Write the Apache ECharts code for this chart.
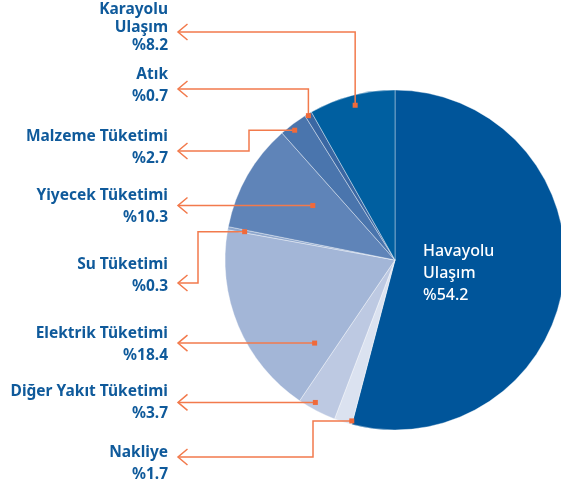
<!DOCTYPE html>
<html>
<head>
<meta charset="utf-8">
<script src="https://cdn.jsdelivr.net/npm/echarts@6/dist/echarts.min.js"></script>
<style>
html, body { margin: 0; padding: 0; background: #fff; }
#main { width: 561px; height: 488px; }
</style>
</head>
<body>
<div id="main"></div>
<script>
// veriler (saat yönünde, tepeden başlayarak)
const names = ['Havayolu\nUlaşım', 'Nakliye', 'Diğer Yakıt Tüketimi', 'Elektrik Tüketimi', 'Su Tüketimi',
  'Yiyecek Tüketimi', 'Malzeme Tüketimi', 'Atık', 'Karayolu\nUlaşım']
const values = [54.2, 1.7, 3.7, 18.4, 0.3, 10.3, 2.7, 0.7, 8.2]

const colors = ['#00559a', '#dbe2f0', '#bdc9e2', '#a3b6d7', '#8ea7cd', '#5f84b8', '#4a75ad', '#3a67a3', '#005fa0']
const ORANGE = '#f27a4c'
const TEXT = '#0f5a9b'

// pasta geometrisi
const CX = 395
const CY = 260
const R = 170
const LABEL_X = 168
const TIP_X = 178

// etiket yerleşimi: etiket merkezi y, ok y, dirsek x, dilim içindeki açı/yarıçap oranı
const labelY = [273, 463.5, 403, 344.5, 275.5, 207, 148, 86, 28]
const arrowY = [null, 457, null, null, 283, null, 151, 89, 32]
const elbowX = [null, 313, null, null, 198, null, 249, 'v', 'v']
const angFrac = [0, 0.05, 0.63, 0.15, 0.4, 0.6, 0.41, 0.4, 0.51]
const radFrac = [0, 0.98, 0.96, 0.68, 0.9, 0.58, 0.965, 0.99, 0.94]

const total = values.reduce((a, b) => a + b, 0)

// dilim içindeki bağlantı noktası
function anchor (i) {
  let start = 0
  for (let k = 0; k < i; k++) start += values[k]
  const a = (start + values[i] * angFrac[i]) / total * 2 * Math.PI
  const r = R * radFrac[i]
  return [CX + r * Math.sin(a), CY - r * Math.cos(a)]
}

function linePoints (i) {
  const p = anchor(i)
  if (elbowX[i] === 'v') {
    return [[TIP_X, arrowY[i]], [p[0], arrowY[i]], p]
  }
  if (elbowX[i] !== null) {
    return [[TIP_X, arrowY[i]], [elbowX[i], arrowY[i]], [elbowX[i], p[1]], p]
  }
  return [[TIP_X, p[1]], p]
}

// kılavuz çizgileri, oklar ve uç kareleri (dilimlerin üstünde)
const graphics = []
for (let i = 1; i < values.length; i++) {
  const pts = linePoints(i)
  const ty = pts[0][1]
  const p = pts[pts.length - 1]
  graphics.push({
    type: 'polyline',
    z: 100,
    shape: { points: pts },
    style: { stroke: ORANGE, lineWidth: 1.5, fill: null }
  })
  graphics.push({
    type: 'polyline',
    z: 100,
    shape: { points: [[TIP_X + 9.5, ty - 8], [TIP_X, ty], [TIP_X + 9.5, ty + 8]] },
    style: { stroke: ORANGE, lineWidth: 1.5, fill: null }
  })
  graphics.push({
    type: 'rect',
    z: 101,
    shape: { x: p[0] - 2.5, y: p[1] - 2.5, width: 5, height: 5 },
    style: { fill: '#f06a3a' }
  })
}

const data = names.map((n, i) => {
  const item = { name: n, value: values[i], itemStyle: { color: colors[i] } }
  const st = i === 0 ? 'w' : (i === 8 ? 'k' : 't')
  item.label = {
    formatter: n.split('\n').map(s => '{' + st + '|' + s + '}').join('\n') + '\n{' + st + '|%' + values[i] + '}'
  }
  return item
})

const myChart = echarts.init(document.getElementById('main'))

const option = {
  animation: false,
  graphic: graphics,
  series: [{
    type: 'pie',
    center: [CX, CY],
    radius: [0, R],
    startAngle: 90,
    clockwise: true,
    avoidLabelOverlap: false,
    itemStyle: { borderColor: 'rgba(255,255,255,0.55)', borderWidth: 0.7 },
    label: {
      show: true,
      position: 'outside',
      rich: {
        t: { fontFamily: 'Noto Sans', fontWeight: 'bold', fontSize: 15.5, color: TEXT, lineHeight: 22, align: 'right' },
        k: { fontFamily: 'Noto Sans', fontWeight: 'bold', fontSize: 15.5, color: TEXT, lineHeight: 18, align: 'right' },
        w: { fontFamily: 'Noto Sans', fontWeight: 500, fontSize: 16, color: '#ffffff', lineHeight: 22, align: 'left' }
      }
    },
    labelLine: { show: false },
    labelLayout: function (params) {
      const i = params.dataIndex
      if (i === 0) {
        return { x: 423, y: labelY[0], align: 'left', verticalAlign: 'middle' }
      }
      return { x: LABEL_X, y: labelY[i], align: 'right', verticalAlign: 'middle' }
    },
    data: data
  }]
}

myChart.setOption(option)
</script>
</body>
</html>
